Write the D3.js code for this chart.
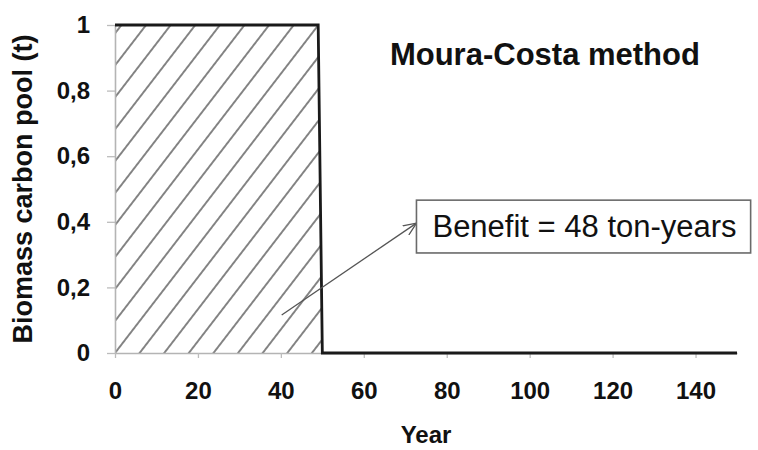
<!DOCTYPE html>
<html>
<head>
<meta charset="utf-8">
<script src="https://cdn.jsdelivr.net/npm/d3@7/dist/d3.min.js"></script>
<style>
  html, body { margin: 0; padding: 0; background: #ffffff; }
  svg { display: block; font-family: "Liberation Sans", Arial, sans-serif; }
</style>
</head>
<body>
<svg id="chart" width="758" height="450"></svg>
<script>
// ---- data ----
const years = [0, 49, 50, 150];
const carbonPool = [1, 1, 0, 0];
const xTickValues = [0, 20, 40, 60, 80, 100, 120, 140];
const yTickValues = [0, 0.2, 0.4, 0.6, 0.8, 1];
const yTickLabels = ["0", "0,2", "0,4", "0,6", "0,8", "1"];
const titleText = "Moura-Costa method";
const xAxisTitle = "Year";
const yAxisTitle = "Biomass carbon pool (t)";
const benefitText = "Benefit = 48 ton-years";
const arrowFrom = [40.2, 0.116];
const arrowTo = [72.7, 0.396];
const titlePos = [66.3, 0.878];
const boxTopBottom = [0.466, 0.305];

// ---- layout ----
const svg = d3.select("#chart");
const W = 758, H = 450;
const m = { left: 115, right: 21, top: 25, bottom: 97 };
const x = d3.scaleLinear().domain([0, 150]).range([m.left, W - m.right]);
const y = d3.scaleLinear().domain([0, 1]).range([H - m.bottom, m.top]);

const pts = years.map((yr, i) => ({ year: yr, v: carbonPool[i] }));

// hatch pattern
const defs = svg.append("defs");
const pat = defs.append("pattern")
  .attr("id", "hatch")
  .attr("patternUnits", "userSpaceOnUse")
  .attr("width", 19.5).attr("height", 10)
  .attr("patternTransform", `translate(${x(0)},${y(0)}) rotate(37.6) translate(-9.75,0)`);
pat.append("path").attr("d", "M9.75,-1V11").attr("stroke", "#444").attr("stroke-width", 1.3);

defs.append("marker")
  .attr("id", "arrowhead")
  .attr("markerUnits", "userSpaceOnUse")
  .attr("viewBox", "0 0 14 12")
  .attr("refX", 13).attr("refY", 6)
  .attr("markerWidth", 14).attr("markerHeight", 12)
  .attr("orient", "auto")
  .append("path")
  .attr("d", "M0,0.5L13,6L0,11.5")
  .attr("fill", "none").attr("stroke", "#555").attr("stroke-width", 1.3);

// hatched area (under the step)
const area = d3.area().x(d => x(d.year)).y0(y(0)).y1(d => y(d.v));
svg.append("path")
  .datum(pts)
  .attr("d", area)
  .attr("fill", "url(#hatch)");

// axes
const yAxis = d3.axisLeft(y).tickValues(yTickValues)
  .tickFormat((d, i) => yTickLabels[i]).tickSize(8).tickSizeOuter(0).tickPadding(17);
const xAxis = d3.axisBottom(x).tickValues(xTickValues)
  .tickSize(5).tickSizeOuter(0).tickPadding(24);

const gy = svg.append("g").attr("transform", `translate(${m.left},0)`).call(yAxis);
const gx = svg.append("g").attr("transform", `translate(0,${y(0)})`).call(xAxis);
[gx, gy].forEach(g => {
  g.select(".domain").attr("stroke", "#b4b4b4").attr("stroke-width", 1.6);
  g.selectAll(".tick line").attr("stroke", "#bcbcbc").attr("stroke-width", 1.3);
  g.selectAll(".tick text")
    .attr("fill", "#111")
    .style("font-size", "24px")
    .style("font-weight", "bold")
    .style("font-family", "'Liberation Sans', Arial, sans-serif");
});

// step line
const line = d3.line().x(d => x(d.year)).y(d => y(d.v));
svg.append("path")
  .datum(pts)
  .attr("d", line)
  .attr("fill", "none")
  .attr("stroke", "#1a1a1a")
  .attr("stroke-width", 2.8);

// title
svg.append("text")
  .attr("x", x(titlePos[0])).attr("y", y(titlePos[1]))
  .attr("fill", "#111")
  .style("font-size", "31px").style("font-weight", "bold")
  .text(titleText);

// axis titles
svg.append("text")
  .attr("x", (x.range()[0] + x.range()[1]) / 2).attr("y", 443)
  .attr("text-anchor", "middle").attr("fill", "#111")
  .style("font-size", "24px").style("font-weight", "bold")
  .text(xAxisTitle);

svg.append("text")
  .attr("transform", `translate(32,${(y.range()[0] + y.range()[1]) / 2}) rotate(-90)`)
  .attr("text-anchor", "middle").attr("fill", "#111")
  .style("font-size", "27px").style("font-weight", "bold")
  .text(yAxisTitle);

// annotation arrow
svg.append("line")
  .attr("x1", x(arrowFrom[0])).attr("y1", y(arrowFrom[1]))
  .attr("x2", x(arrowTo[0])).attr("y2", y(arrowTo[1]))
  .attr("stroke", "#555").attr("stroke-width", 1.3)
  .attr("marker-end", "url(#arrowhead)");

// annotation box
const bx = x(arrowTo[0]);
const by0 = y(boxTopBottom[0]), by1 = y(boxTopBottom[1]);
const box = svg.append("rect")
  .attr("fill", "#fff").attr("stroke", "#6a6a6a").attr("stroke-width", 1.6);
const btxt = svg.append("text")
  .attr("x", bx + 16).attr("y", by1 - 16)
  .attr("fill", "#111")
  .style("font-size", "31px")
  .text(benefitText);
const tw = btxt.node().getComputedTextLength();
box.attr("x", bx).attr("y", by0).attr("width", tw + 30).attr("height", by1 - by0);
</script>
</body>
</html>
